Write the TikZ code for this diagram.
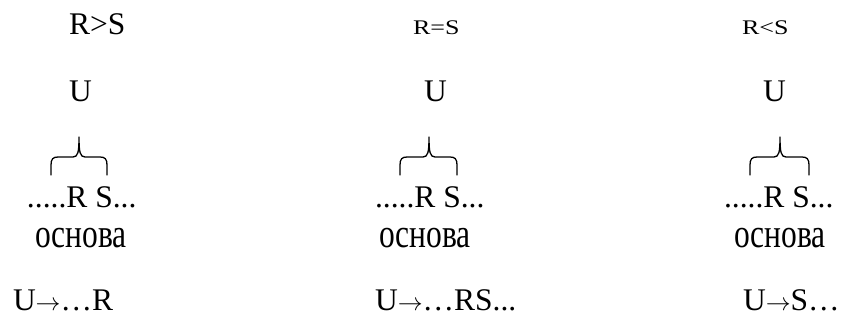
\documentclass[tikz,border=0pt]{standalone}
\usepackage{fontspec}
\setmainfont{Liberation Serif}
\usepackage{graphicx}
\newcommand\arr{\ensuremath{\rightarrow}}
\newcommand\drawbrace[3]{%
  \draw[bracestyle] (#1,175) -- (#1,165) .. controls (#1,159) and (#1+2,157) .. (#1+7,157)
    -- (#2-6,157) .. controls (#2-1,157) and (#2,152) .. (#2,137)
    .. controls (#2,152) and (#2+1,157) .. (#2+6,157)
    -- (#3-7,157) .. controls (#3-2,157) and (#3,159) .. (#3,165) -- (#3,175);}
\begin{document}
\begin{tikzpicture}[x=1pt,y=-1pt,
  txt/.style={anchor=base west,inner sep=0pt,outer sep=0pt,font=\fontsize{31.5}{31.5}\selectfont},
  small/.style={anchor=base west,inner sep=0pt,outer sep=0pt,font=\fontsize{26}{26}\selectfont},
  bracestyle/.style={line width=1.3pt,line cap=round,line join=round}]
\useasboundingbox (0,0) rectangle (845,323);
% column 1
\node[txt] (c1a) at (69,35) {R>S};
\node[txt] (c1u) at (69,102) {U};
\drawbrace{51}{79}{107}
\node[txt] (c1rs) at (27,207) {.....R S...};
\node[txt] (c1o) at (35,247) {\scalebox{1}[1.3]{основа}};
\node[txt] (c1r) at (13,310) {U\arr…R};
% column 2
\node[small] (c2a) at (413,35) {\scalebox{1}[0.8]{R=S}};
\node[txt] (c2u) at (424,102) {U};
\drawbrace{400}{429}{457}
\node[txt] (c2rs) at (375,207) {.....R S...};
\node[txt] (c2o) at (379,247) {\scalebox{1}[1.3]{основа}};
\node[txt] (c2r) at (375,310) {U\arr…RS...};
% column 3
\node[small] (c3a) at (742,35) {\scalebox{1}[0.8]{R<S}};
\node[txt] (c3u) at (763,102) {U};
\drawbrace{750}{780}{809}
\node[txt] (c3rs) at (724,207) {.....R S...};
\node[txt] (c3o) at (734,247) {\scalebox{1}[1.3]{основа}};
\node[txt] (c3r) at (743,310) {U\arr S…};
\end{tikzpicture}
\end{document}
